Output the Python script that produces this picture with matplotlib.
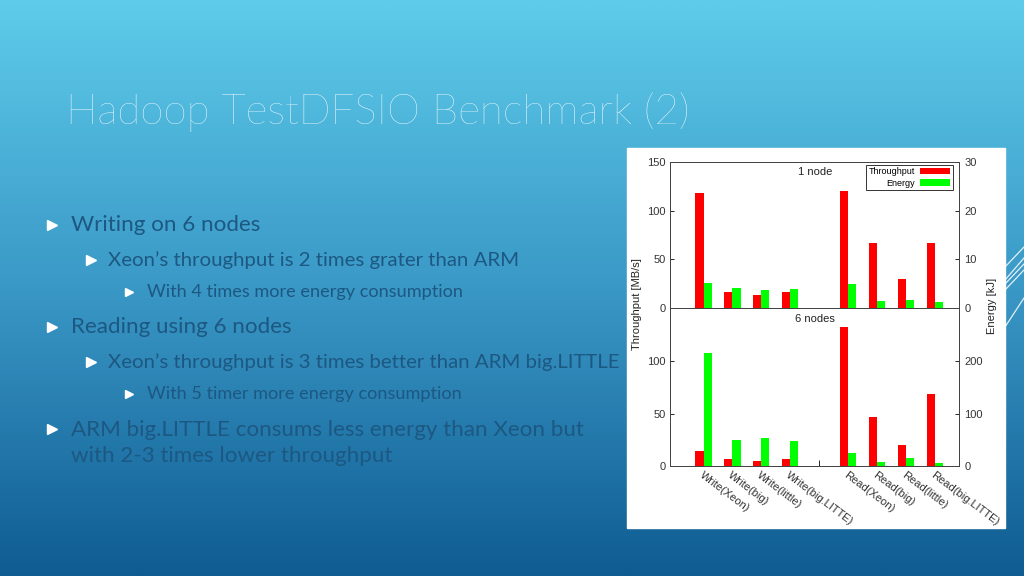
import matplotlib
matplotlib.use("Agg")
import matplotlib.pyplot as plt
import numpy as np
from matplotlib.colors import LinearSegmentedColormap
from matplotlib.patches import Rectangle

# --- chart data ---
categories = ["Write(Xeon)", "Write(big)", "Write(little)", "Write(big.LITTE)",
              "Read(Xeon)", "Read(big)", "Read(little)", "Read(big.LITTE)"]
positions = [1, 2, 3, 4, 6, 7, 8, 9]

thr_1node = [117.8, 16.1, 13.7, 16.8, 120.2, 66.8, 30.1, 66.8]      # MB/s
energy_1node = [5.1, 4.2, 3.6, 4.0, 4.9, 1.4, 1.7, 1.3]             # kJ
thr_6nodes = [15.0, 7.3, 5.4, 7.3, 132.5, 47.5, 20.4, 68.8]         # MB/s
energy_6nodes = [216, 49.7, 54.8, 49, 26, 9, 15, 6.4]               # kJ

# --- slide text ---
title = "Hadoop TestDFSIO Benchmark (2)"
bullets = [
    (1, "Writing on 6 nodes"),
    (2, "Xeon\u2019s throughput is 2 times grater than ARM"),
    (3, "With 4 times more energy consumption"),
    (1, "Reading using 6 nodes"),
    (2, "Xeon\u2019s throughput is 3 times better than ARM big.LITTLE"),
    (3, "With 5 timer more energy consumption"),
    (1, "ARM big.LITTLE consums less energy than Xeon but\nwith 2-3 times lower throughput"),
]
bullet_y = [225, 260, 292, 327, 362, 394, 429]

W, H = 1024, 576
fig = plt.figure(figsize=(W / 100, H / 100), dpi=100)

# background gradient, in pixel coordinates (y down)
bg = fig.add_axes([0, 0, 1, 1])
cmap = LinearSegmentedColormap.from_list("bg", ["#5ECCEA", "#3A98C6", "#0F5C92"])
grad = np.linspace(0, 1, 256).reshape(-1, 1)
bg.imshow(grad, aspect="auto", cmap=cmap, extent=[0, W, H, 0])
bg.set_xlim(0, W)
bg.set_ylim(H, 0)
bg.axis("off")

# decorative lines at right edge
for y0, y1 in [(267, 247), (280, 258), (284, 264), (290, 270), (327, 298)]:
    bg.plot([1005, 1024], [y0, y1], color="white", lw=0.9, alpha=0.85)

# white chart panel
bg.add_patch(Rectangle((627, 148), 378, 380, color="white", zorder=3))

body_font = ["Lato", "DejaVu Sans"]
bg.text(66, 112, title, color="white", fontsize=30.3, family=body_font,
        fontweight="light", va="center", ha="left")

text_color = "#1C5882"
levels = {1: (52, 71, 16.1), 2: (91, 108, 14.7), 3: (129, 147, 13.1)}
for (lvl, txt), y in zip(bullets, bullet_y):
    bx, tx, fs = levels[lvl]
    bg.plot([bx], [y], marker=">", ms=fs * 0.45, color="white", mec="white")
    if "\n" in txt:
        bg.text(tx, y - 9, txt, color=text_color, fontsize=fs, family=body_font,
                va="top", ha="left", linespacing=1.36)
    else:
        bg.text(tx, y, txt, color=text_color, fontsize=fs, family=body_font,
                va="center", ha="left")

plt.rcParams["font.family"] = ["Liberation Sans", "DejaVu Sans"]
left, right = 670.3 / W, 959.3 / W
ax1 = fig.add_axes([left, 1 - 308 / H, right - left, 146 / H])
ax2 = fig.add_axes([left, 1 - 466.3 / H, right - left, 158.3 / H])

bw = 0.28
red, green = "#FF0000", "#00FF00"
pos = np.array(positions)
tick_kw = dict(direction="in", length=3, labelsize=8, labelcolor="#333333", width=0.6)

for ax, thr, en, ymax, emax, yt, et, label in [
        (ax1, thr_1node, energy_1node, 150, 30, [0, 50, 100, 150], [0, 10, 20, 30], "1 node"),
        (ax2, thr_6nodes, energy_6nodes, 151, 302, [0, 50, 100], [0, 100, 200], "6 nodes")]:
    axr = ax.twinx()
    ax.bar(pos - bw / 2, thr, width=bw, color=red, label="Throughput")
    axr.bar(pos + bw / 2, en, width=bw, color=green, label="Energy")
    ax.set_xlim(-0.15, 9.85)
    ax.set_ylim(0, ymax)
    axr.set_ylim(0, emax)
    ax.set_yticks(yt)
    axr.set_yticks(et)
    ax.tick_params(axis="y", **tick_kw)
    axr.tick_params(axis="y", **tick_kw)
    for a in (ax, axr):
        for s in a.spines.values():
            s.set_linewidth(0.7)
            s.set_color("#444444")
    ax.text(0.5, 0.93, label, transform=ax.transAxes, ha="center", va="center",
            fontsize=8, color="#222222")
    if ax is ax1:
        ax.set_xticks([])
        h1, l1 = ax.get_legend_handles_labels()
        h2, l2 = axr.get_legend_handles_labels()
        leg = axr.legend(h1 + h2, l1 + l2, loc="upper right", bbox_to_anchor=(0.977, 0.981),
                         borderaxespad=0, markerfirst=False, fontsize=6.5, handlelength=3.3,
                         fancybox=False, framealpha=1, edgecolor="#333333",
                         borderpad=0.3, labelspacing=0.25, handletextpad=0.6)
        leg.get_frame().set_linewidth(0.7)
    else:
        ax.set_xticks(pos)
        ax.set_xticklabels(categories, rotation=-37, ha="left", va="top",
                           rotation_mode="anchor", fontsize=8, color="#333333")
        ax.tick_params(axis="x", length=0, pad=3)
        ax.set_xticks([5], minor=True)
        ax.tick_params(axis="x", which="minor", direction="in", length=4, width=0.6)

fig.text(637 / W, 1 - 304 / H, "Throughput [MB/s]", rotation=90, ha="center", va="center",
         fontsize=8, color="#222222")
fig.text(992 / W, 1 - 306 / H, "Energy [kJ]", rotation=90, ha="center", va="center",
         fontsize=8, color="#222222")

fig.savefig("out.png", dpi=100)
